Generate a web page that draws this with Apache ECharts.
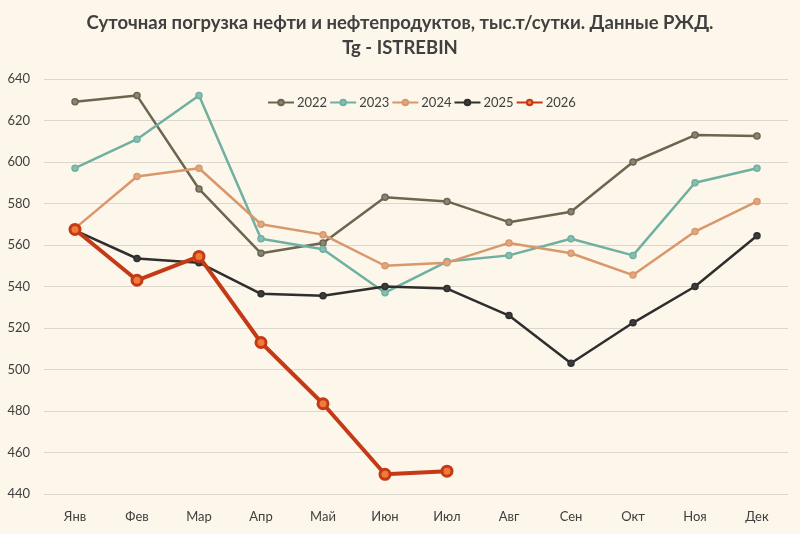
<!DOCTYPE html>
<html>
<head>
<meta charset="utf-8">
<script src="https://cdn.jsdelivr.net/npm/echarts@6/dist/echarts.min.js"></script>
<style>
    html, body { margin: 0; padding: 0; background: #fdf6ea; }
    #chart { width: 800px; height: 534px; }
</style>
</head>
<body>
<div id="chart"></div>
<script>
const months = ['Янв', 'Фев', 'Мар', 'Апр', 'Май', 'Июн', 'Июл', 'Авг', 'Сен', 'Окт', 'Ноя', 'Дек'];

const y2022 = [629, 632, 587, 556, 561, 583, 581, 571, 576, 600, 613, 612.5];
const y2023 = [597, 611, 632, 563, 558, 537, 552, 555, 563, 555, 590, 597];
const y2024 = [568, 593, 597, 570, 565, 550, 551.5, 561, 556, 545.5, 566.5, 581];
const y2025 = [567, 553.5, 551.5, 536.5, 535.5, 540, 539, 526, 503, 522.5, 540, 564.5];
const y2026 = [567.5, 543, 554.5, 513, 483.5, 449.5, 451];

const chartDom = document.querySelector('#chart');

function makeSeries(name, data, color, fill) {
    return {
        name: name,
        type: 'line',
        data: data,
        symbol: 'circle',
        symbolSize: 6,
        lineStyle: {color: color, width: 2.5},
        itemStyle: {color: fill, borderColor: color, borderWidth: 1.5},
        emphasis: {disabled: true}
    };
}

let option = {
    backgroundColor: '#fdf6ea',
    textStyle: {fontFamily: 'Lato'},
    title: {
        text: 'Суточная погрузка нефти и нефтепродуктов, тыс.т/сутки. Данные РЖД.\nTg - ISTREBIN',
        left: 'center',
        top: 6,
        textStyle: {
            color: '#404040',
            fontSize: 18.5,
            fontWeight: 'bold',
            lineHeight: 25,
            fontFamily: 'Lato'
        }
    },
    legend: {
        top: 91,
        left: 262,
        itemGap: 2,
        itemWidth: 26,
        itemHeight: 7,
        textStyle: {color: '#404040', fontSize: 13, fontFamily: 'Lato', padding: [0, 0, 0, -2]},
        data: ['2022', '2023', '2024', '2025', '2026']
    },
    grid: {
        left: 44,
        right: 12,
        top: 79,
        bottom: 40,
        containLabel: false
    },
    xAxis: {
        type: 'category',
        data: months,
        boundaryGap: true,
        axisLine: {show: false},
        axisTick: {show: false},
        axisLabel: {color: '#404040', fontSize: 13, margin: 16}
    },
    yAxis: {
        type: 'value',
        min: 440,
        max: 640,
        interval: 20,
        axisLine: {show: false},
        axisTick: {show: false},
        axisLabel: {color: '#404040', fontSize: 13, margin: 14, align: 'right'},
        splitLine: {lineStyle: {color: '#dcd6cc', width: 1}}
    },
    series: [
        makeSeries('2022', y2022, '#6b6650', '#8a8670'),
        makeSeries('2023', y2023, '#6fb0a0', '#86c0b2'),
        makeSeries('2024', y2024, '#d9976c', '#e0a882'),
        makeSeries('2025', y2025, '#2e2e2e', '#3c3c3c'),
        {
            name: '2026',
            type: 'line',
            data: y2026,
            symbol: 'circle',
            symbolSize: 10,
            z: 10,
            lineStyle: {color: '#c43a17', width: 4},
            itemStyle: {color: '#f07a3a', borderColor: '#c43a17', borderWidth: 3},
            emphasis: {disabled: true}
        }
    ]
};

let myChart = echarts.init(chartDom);
myChart.setOption(option);
</script>
</body>
</html>
